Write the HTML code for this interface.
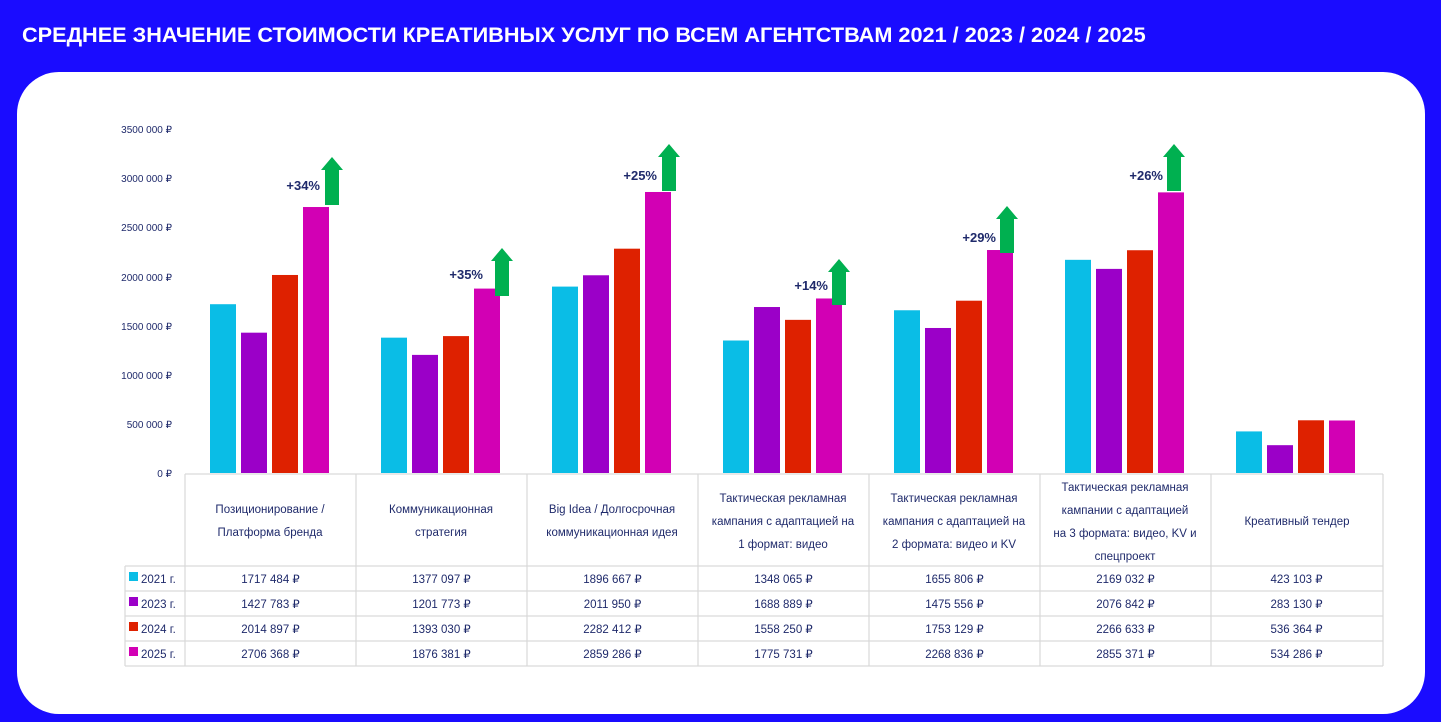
<!DOCTYPE html><html><head><meta charset="utf-8"><style>
body{margin:0;width:1441px;height:717px;background:#1a0cff;overflow:hidden;font-family:"Liberation Sans",sans-serif}
</style></head><body>
<svg width="1441" height="717" xmlns="http://www.w3.org/2000/svg" font-family="Liberation Sans, sans-serif">
<rect width="1441" height="717" fill="#1a0cff"/>
<text x="22" y="42" fill="#fff" font-size="21.7" font-weight="bold">СРЕДНЕЕ ЗНАЧЕНИЕ СТОИМОСТИ КРЕАТИВНЫХ УСЛУГ ПО ВСЕМ АГЕНТСТВАМ 2021 / 2023 / 2024 / 2025</text>
<rect x="17" y="72" width="1408" height="642" rx="42" fill="#fff"/>
<g font-size="10" fill="#1f2a6b" text-anchor="end">
<text x="172" y="133">3500 000 ₽</text><text x="172" y="182">3000 000 ₽</text><text x="172" y="231">2500 000 ₽</text><text x="172" y="281">2000 000 ₽</text><text x="172" y="330">1500 000 ₽</text><text x="172" y="379">1000 000 ₽</text><text x="172" y="428">500 000 ₽</text><text x="172" y="477">0 ₽</text>
</g>
<g id="bars"></g>
<g stroke="#d9d9d9" stroke-width="1.2" fill="none">
<line x1="185" y1="474" x2="1383" y2="474"/>
<line x1="125" y1="566" x2="1383" y2="566"/><line x1="125" y1="591" x2="1383" y2="591"/><line x1="125" y1="616" x2="1383" y2="616"/><line x1="125" y1="641" x2="1383" y2="641"/><line x1="125" y1="666" x2="1383" y2="666"/>
<line x1="125" y1="566" x2="125" y2="666"/>
<line x1="185" y1="474" x2="185" y2="666"/><line x1="356" y1="474" x2="356" y2="666"/><line x1="527" y1="474" x2="527" y2="666"/><line x1="698" y1="474" x2="698" y2="666"/><line x1="869" y1="474" x2="869" y2="666"/><line x1="1040" y1="474" x2="1040" y2="666"/><line x1="1211" y1="474" x2="1211" y2="666"/><line x1="1383" y1="474" x2="1383" y2="666"/>
</g>
<g font-size="11.5" fill="#1f2a6b" text-anchor="middle">
<text x="270" y="513">Позиционирование /</text><text x="270" y="536">Платформа бренда</text>
<text x="441" y="513">Коммуникационная</text><text x="441" y="536">стратегия</text>
<text x="612" y="513">Big Idea / Долгосрочная</text><text x="612" y="536">коммуникационная идея</text>
<text x="783" y="502">Тактическая рекламная</text><text x="783" y="525">кампания с адаптацией на</text><text x="783" y="548">1 формат: видео</text>
<text x="954" y="502">Тактическая рекламная</text><text x="954" y="525">кампания с адаптацией на</text><text x="954" y="548">2 формата: видео и KV</text>
<text x="1125" y="491">Тактическая рекламная</text><text x="1125" y="514">кампании с адаптацией</text><text x="1125" y="537">на 3 формата: видео, KV и</text><text x="1125" y="560">спецпроект</text>
<text x="1297" y="525">Креативный тендер</text>
</g>
<g id="tbl" font-size="11.5" fill="#1f2a6b"></g>
<g fill="#00b050">
<polygon points="325,205 339,205 339,170 343,170 332,157 321,170 325,170"/>
<polygon points="495,296 509,296 509,261 513,261 502,248 491,261 495,261"/>
<polygon points="662,191 676,191 676,157 680,157 669,144 658,157 662,157"/>
<polygon points="832,305 846,305 846,272 850,272 839,259 828,272 832,272"/>
<polygon points="1000,253 1014,253 1014,219 1018,219 1007,206 996,219 1000,219"/>
<polygon points="1167,191 1181,191 1181,157 1185,157 1174,144 1163,157 1167,157"/>
</g>
<g font-size="13" font-weight="bold" fill="#1f2a6b" text-anchor="end">
<text x="320" y="190">+34%</text><text x="483" y="279">+35%</text><text x="657" y="180">+25%</text><text x="828" y="290">+14%</text><text x="996" y="242">+29%</text><text x="1163" y="180">+26%</text>
</g>
<script>
var d=[[1717484,1427783,2014897,2706368],[1377097,1201773,1393030,1876381],[1896667,2011950,2282412,2859286],[1348065,1688889,1558250,1775731],[1655806,1475556,1753129,2268836],[2169032,2076842,2266633,2855371],[423103,283130,536364,534286]];
var c=["#0abde6","#9b00c8","#de2100","#d200b4"],yrs=["2021 г.","2023 г.","2024 г.","2025 г."];
var ns="http://www.w3.org/2000/svg",b=document.getElementById("bars"),t=document.getElementById("tbl");
function f(v){var s=String(v);return s.slice(0,s.length-3)+" "+s.slice(-3)+" ₽";}
for(var i=0;i<7;i++)for(var j=0;j<4;j++){var h=d[i][j]/500000*49.14,r=document.createElementNS(ns,"rect");
r.setAttribute("x",185+171*i+25+31*j);r.setAttribute("y",473-h);r.setAttribute("width",26);r.setAttribute("height",h);r.setAttribute("fill",c[j]);b.appendChild(r);
var tx=document.createElementNS(ns,"text");tx.setAttribute("x",270.5+171*i);tx.setAttribute("y",583+25*j);tx.setAttribute("text-anchor","middle");tx.textContent=f(d[i][j]);t.appendChild(tx);}
for(var j=0;j<4;j++){var r=document.createElementNS(ns,"rect");r.setAttribute("x",129);r.setAttribute("y",572+25*j);r.setAttribute("width",9);r.setAttribute("height",9);r.setAttribute("fill",c[j]);t.appendChild(r);
var tx=document.createElementNS(ns,"text");tx.setAttribute("x",141);tx.setAttribute("y",583+25*j);tx.textContent=yrs[j];t.appendChild(tx);}
</script>
</svg></body></html>
